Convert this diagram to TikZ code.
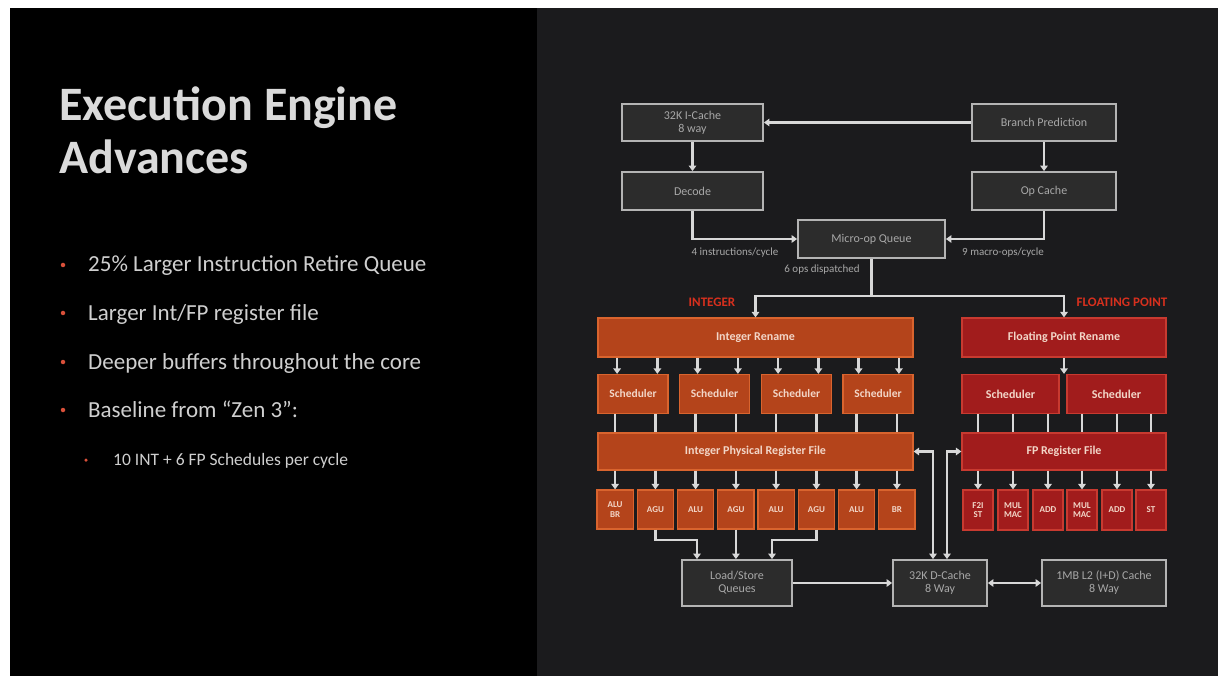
\documentclass[tikz,border=0pt]{standalone}
\usepackage{fontspec}
\setmainfont{Carlito}
\usetikzlibrary{arrows.meta}
\definecolor{panelR}{HTML}{1B1B1D}
\definecolor{gfill}{HTML}{2C2C2C}
\definecolor{gborder}{HTML}{B4B4B4}
\definecolor{gtext}{HTML}{A8A8A8}
\definecolor{ifill}{HTML}{B4441B}
\definecolor{iborder}{HTML}{D9642E}
\definecolor{ffill}{HTML}{A11C1C}
\definecolor{fborder}{HTML}{C83A30}
\definecolor{btext}{HTML}{F2D6C8}
\definecolor{lcol}{HTML}{D8D8D8}
\definecolor{redlab}{HTML}{D8301E}
\definecolor{titlec}{HTML}{DADADA}
\definecolor{bodyc}{HTML}{CFCFCF}
\definecolor{dotc}{HTML}{D9503A}
\begin{document}
\begin{tikzpicture}[x=1pt,y=-1pt,
  gbox/.style={draw=gborder, fill=gfill, line width=1.8pt, text=gtext, font=\fontsize{12}{13}\selectfont, align=center, inner sep=0pt},
  ibox/.style={draw=iborder, fill=ifill, line width=1.2pt, text=btext, font=\bfseries\fontsize{12}{13}\selectfont, align=center, inner sep=0pt},
  fpbox/.style={draw=fborder, fill=ffill, line width=1.2pt, text=btext, font=\bfseries\fontsize{12}{13}\selectfont, align=center, inner sep=0pt},
  eunit/.style={minimum width=36.25pt, minimum height=39pt, font=\bfseries\fontsize{9}{9.5}\selectfont},
  funit/.style={minimum width=30pt, minimum height=40pt, font=\bfseries\fontsize{9}{9.5}\selectfont},
  sched/.style={minimum width=70pt, minimum height=39pt, font=\bfseries\fontsize{11.5}{12}\selectfont},
  conn/.style={draw=lcol, line width=2.6pt},
  arr/.style={conn, -{Triangle[width=7.5pt,length=5.5pt]}},
  darr/.style={conn, {Triangle[width=7.5pt,length=5.5pt]}-{Triangle[width=7.5pt,length=5.5pt]}},
  lab/.style={text=gtext, font=\fontsize{11}{12}\selectfont, inner sep=0pt},
  redl/.style={text=redlab, font=\bfseries\fontsize{13}{14}\selectfont, inner sep=0pt},
  bul/.style={anchor=base west, text=bodyc, font=\fontsize{23}{25}\selectfont, inner sep=0pt},
  dot/.style={fill=dotc, inner sep=0pt, minimum size=4.5pt, circle}
]
\useasboundingbox (0,0) rectangle (1229,676);
\fill[white] (0,0) rectangle (1229,676);
\fill[black] (10,8) rectangle (537,676);
\fill[panelR] (537,8) rectangle (1218,676);

% left panel text
\node[anchor=base west, text=titlec, font=\bfseries\fontsize{48}{50}\selectfont, inner sep=0pt] (t1) at (59,121) {Execution Engine};
\node[anchor=base west, text=titlec, font=\bfseries\fontsize{48}{50}\selectfont, inner sep=0pt] (t2) at (59,174) {Advances};
\node[bul] (b1) at (88,272) {25\% Larger Instruction Retire Queue};
\node[bul] (b2) at (88,320) {Larger Int/FP register file};
\node[bul] (b3) at (88,369) {Deeper buffers throughout the core};
\node[bul] (b4) at (88,417) {Baseline from “Zen 3”:};
\node[bul, font=\fontsize{17.5}{19}\selectfont] (b5) at (113,465) {10 INT + 6 FP Schedules per cycle};
\node[dot] (d1) at (63,265) {};
\node[dot] (d2) at (63,313) {};
\node[dot] (d3) at (63,362) {};
\node[dot] (d4) at (63,410) {};
\node[dot, minimum size=3.5pt] (d5) at (86,460) {};

% front end
\node[gbox, minimum width=141pt, minimum height=37pt] (ic) at (692.5,122.5) {32K I-Cache\\8 way};
\node[gbox, minimum width=144pt, minimum height=37pt] (bp) at (1044,122.5) {Branch Prediction};
\node[gbox, minimum width=141pt, minimum height=38pt] (dec) at (692.5,191) {Decode};
\node[gbox, minimum width=144pt, minimum height=38pt] (opc) at (1044,191) {Op Cache};
\node[gbox, minimum width=147pt, minimum height=38pt] (mq) at (871.5,239) {Micro-op Queue};
\node[lab] (l4) at (735,253) {4 instructions/cycle};
\node[lab] (l9) at (1003,253) {9 macro-ops/cycle};
\node[lab] (l6) at (822,270) {6 ops dispatched};
\node[redl] (lint) at (712,302) {INTEGER};
\node[redl] (lfp) at (1122,302) {FLOATING POINT};

% integer side
\node[ibox, minimum width=315pt, minimum height=39pt] (irn) at (755.5,337.5) {Integer Rename};
\node[ibox, sched] (s1) at (633,394) {Scheduler};
\node[ibox, sched] (s2) at (714.5,394) {Scheduler};
\node[ibox, sched] (s3) at (796.5,394) {Scheduler};
\node[ibox, sched] (s4) at (878,394) {Scheduler};
\node[ibox, minimum width=315pt, minimum height=37pt] (iprf) at (755.5,451.5) {Integer Physical Register File};
\node[ibox, eunit] (e1) at (615.1,509.5) {ALU\\BR};
\node[ibox, eunit] (e2) at (655.4,509.5) {AGU};
\node[ibox, eunit] (e3) at (695.6,509.5) {ALU};
\node[ibox, eunit] (e4) at (735.9,509.5) {AGU};
\node[ibox, eunit] (e5) at (776.1,509.5) {ALU};
\node[ibox, eunit] (e6) at (816.4,509.5) {AGU};
\node[ibox, eunit] (e7) at (856.6,509.5) {ALU};
\node[ibox, eunit] (e8) at (896.9,509.5) {BR};

% floating point side
\node[fpbox, minimum width=204pt, minimum height=39pt] (frn) at (1064,337.5) {Floating Point Rename};
\node[fpbox, minimum width=97pt, minimum height=39pt] (fs1) at (1010.5,394) {Scheduler};
\node[fpbox, minimum width=99pt, minimum height=39pt] (fs2) at (1116.5,394) {Scheduler};
\node[fpbox, minimum width=204pt, minimum height=37pt] (fprf) at (1064,451.5) {FP Register File};
\node[fpbox, funit] (f1) at (978,510) {F2I\\ST};
\node[fpbox, funit] (f2) at (1013,510) {MUL\\MAC};
\node[fpbox, funit] (f3) at (1048,510) {ADD};
\node[fpbox, funit] (f4) at (1082,510) {MUL\\MAC};
\node[fpbox, funit] (f5) at (1117,510) {ADD};
\node[fpbox, funit] (f6) at (1151,510) {ST};

% memory
\node[gbox, minimum width=110pt, minimum height=46pt] (lsq) at (737,583) {Load/Store\\Queues};
\node[gbox, minimum width=94pt, minimum height=46pt] (dc) at (940,583) {32K D-Cache\\8 Way};
\node[gbox, minimum width=124pt, minimum height=46pt] (l2) at (1104,583) {1MB L2 (I+D) Cache\\8 Way};

% connectors: front end
\draw[arr] (bp.west) -- (ic.east);
\draw[arr] (ic.south) -- (dec.north);
\draw[arr] (bp.south) -- (opc.north);
\draw[arr] (dec.south) |- (mq.west);
\draw[arr] (opc.south) |- (mq.east);
\coordinate (split) at (871.5,296);
\draw[conn] (mq.south) -- (split);
\draw[darr] (irn.north) -- (irn.north |- split) -- (frn.north |- split) -- (frn.north);

% integer connectors
\foreach \e/\s in {e1/s1,e2/s1,e3/s2,e4/s2,e5/s3,e6/s3,e7/s4,e8/s4}{
  \draw[arr] ([xshift=2pt]\e |- irn.south) -- ([xshift=2pt]\e |- \s.north);
  \draw[conn] (\e |- \s.south) -- (\e |- iprf.north);
  \draw[arr] (\e |- iprf.south) -- (\e.north);
}
% fp connectors
\draw[arr] (frn.south) -- (frn.south |- fs1.north);
\foreach \f/\s in {f1/fs1,f2/fs1,f3/fs1,f4/fs2,f5/fs2,f6/fs2}{
  \draw[conn] (\f |- \s.south) -- (\f |- fprf.north);
  \draw[arr] (\f |- fprf.south) -- (\f.north);
}

% memory connectors
\draw[arr] (e2.south) |- ([xshift=-40pt,yshift=19pt]lsq.north) -- ([xshift=-40pt]lsq.north);
\draw[arr] (e4.south) -- (e4.south |- lsq.north);
\draw[arr] (e6.south) |- ([xshift=35pt,yshift=19pt]lsq.north) -- ([xshift=35pt]lsq.north);
\draw[arr] (lsq.east) -- (dc.west);
\draw[darr] (dc.east) -- (l2.west);
\draw[darr] ([xshift=-7pt]dc.north) |- (iprf.east);
\draw[darr] ([xshift=7pt]dc.north) |- (fprf.west);
\end{tikzpicture}
\end{document}
